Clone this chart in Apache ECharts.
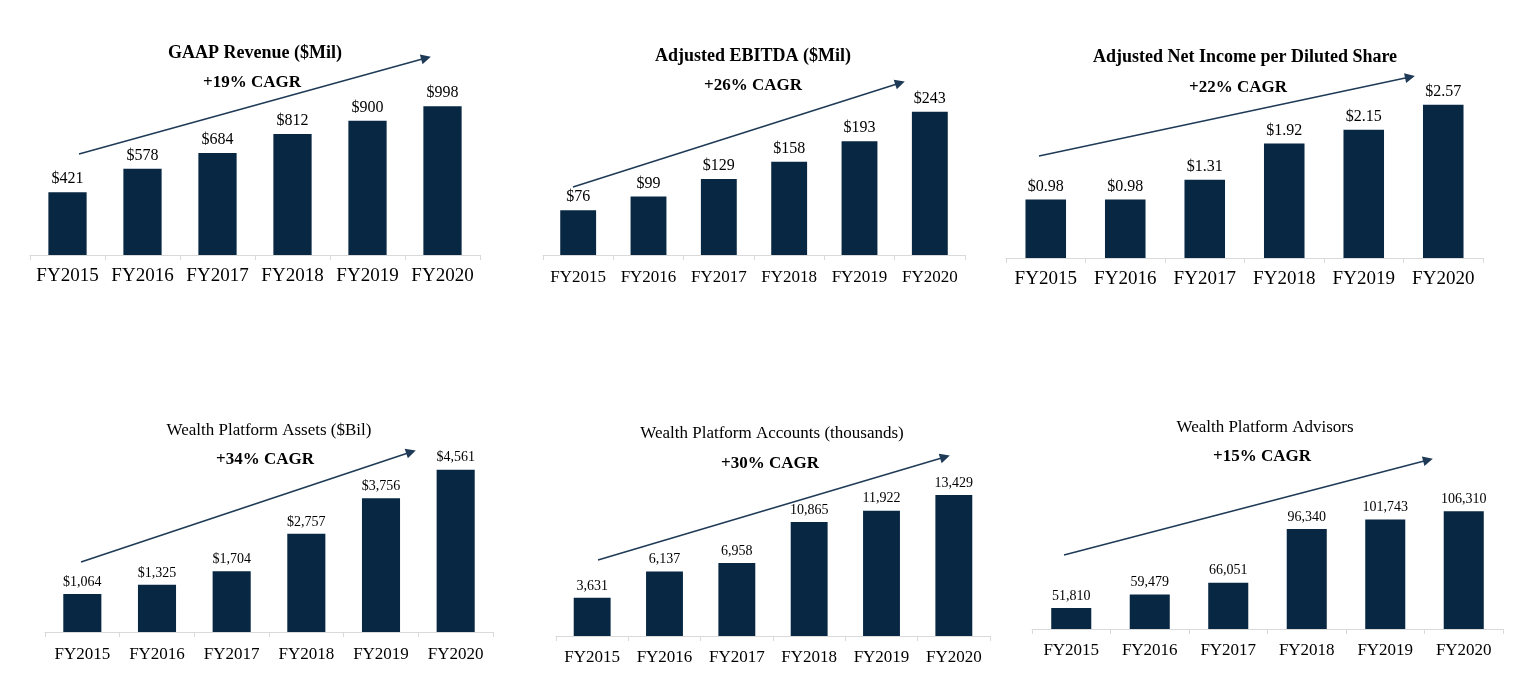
<!DOCTYPE html>
<html>
<head>
<meta charset="utf-8">
<script src="https://cdn.jsdelivr.net/npm/echarts@6/dist/echarts.min.js"></script>
<style>
  html, body { margin: 0; padding: 0; background: #ffffff; }
  #chart { width: 1517px; height: 689px; }
</style>
</head>
<body>
<div id="chart"></div>
<script>
// ---- Data ----
const categories = ['FY2015', 'FY2016', 'FY2017', 'FY2018', 'FY2019', 'FY2020'];
const titles = [
  'GAAP Revenue ($Mil)',
  'Adjusted EBITDA ($Mil)',
  'Adjusted Net Income per Diluted Share',
  'Wealth Platform Assets ($Bil)',
  'Wealth Platform Accounts (thousands)',
  'Wealth Platform Advisors'
];
const cagrLabels = ['+19% CAGR', '+26% CAGR', '+22% CAGR', '+34% CAGR', '+30% CAGR', '+15% CAGR'];
const revenue = [421, 578, 684, 812, 900, 998];
const ebitda = [76, 99, 129, 158, 193, 243];
const epsDiluted = [0.98, 0.98, 1.31, 1.92, 2.15, 2.57];
const platformAssets = [1064, 1325, 1704, 2757, 3756, 4561];
const platformAccounts = [3631, 6137, 6958, 10865, 11922, 13429];
const platformAdvisors = [51810, 59479, 66051, 96340, 101743, 106310];

const seriesData = [revenue, ebitda, epsDiluted, platformAssets, platformAccounts, platformAdvisors];

// ---- Formatting ----
const withCommas = v => v.toLocaleString('en-US');
const formatters = [
  v => '$' + withCommas(v),
  v => '$' + withCommas(v),
  v => '$' + v.toFixed(2),
  v => '$' + withCommas(v),
  v => withCommas(v),
  v => withCommas(v)
];

// ---- Layout (positions & styles) ----
const panels = [
  { left: 30,   top: 76,  width: 450, height: 179, min: 0, max: 1200,
    catSize: 19, catMargin: 12, valSize: 16, titleBold: true,
    title: [255, 53], cagr: [252, 83], arrow: [[79, 154], [426, 58]] },
  { left: 543,  top: 78,  width: 422, height: 177, min: 0, max: 300,
    catSize: 17, catMargin: 14, valSize: 16, titleBold: true,
    title: [753, 56], cagr: [753, 86], arrow: [[573, 187], [900, 83]] },
  { left: 1006, top: 79,  width: 477, height: 179, min: 0, max: 3,
    catSize: 19, catMargin: 12, valSize: 16, titleBold: true,
    title: [1245, 57], cagr: [1238, 88], arrow: [[1039, 156], [1410, 77]] },
  { left: 45,   top: 454, width: 448, height: 178, min: 0, max: 5000,
    catSize: 17, catMargin: 14, valSize: 14, titleBold: false,
    title: [269, 431], cagr: [265, 460], arrow: [[81, 562], [411, 452]] },
  { left: 556,  top: 468, width: 434, height: 168, min: 0, max: 16000,
    catSize: 17, catMargin: 13, valSize: 14, titleBold: false,
    title: [772, 434], cagr: [770, 464], arrow: [[598, 560], [945, 457]] },
  { left: 1032, top: 487, width: 471, height: 142, min: 40000, max: 120000,
    catSize: 17, catMargin: 13, valSize: 14, titleBold: false,
    title: [1265, 428], cagr: [1262, 457], arrow: [[1064, 555], [1428, 460]] }
];

const FONT = "'Liberation Serif', 'Times New Roman', serif";
const BAR_COLOR = '#072743';
const ARROW_COLOR = '#1E3A56';
const AXIS_COLOR = '#D9D9D9';

const grids = [], xAxes = [], yAxes = [], series = [], graphics = [];

panels.forEach((p, i) => {
  grids.push({ left: p.left, top: p.top, width: p.width, height: p.height, containLabel: false });
  xAxes.push({
    type: 'category', gridIndex: i, data: categories,
    axisLine: { show: true, lineStyle: { color: AXIS_COLOR, width: 1 } },
    axisTick: { show: true, length: 5, interval: 0, lineStyle: { color: AXIS_COLOR } },
    axisLabel: { interval: 0, hideOverlap: false, fontFamily: FONT, fontSize: p.catSize, color: '#000', margin: p.catMargin },
    splitLine: { show: false }
  });
  yAxes.push({ type: 'value', gridIndex: i, min: p.min, max: p.max, show: false, splitLine: { show: false } });
  series.push({
    type: 'bar', xAxisIndex: i, yAxisIndex: i, data: seriesData[i],
    barWidth: '51%',
    itemStyle: { color: BAR_COLOR },
    label: {
      show: true, position: 'top', distance: 5,
      fontFamily: FONT, fontSize: p.valSize, color: '#000',
      formatter: params => formatters[i](params.value)
    },
    markLine: {
      silent: true,
      symbol: ['none', 'triangle'],
      symbolSize: 10,
      label: { show: false },
      lineStyle: { color: ARROW_COLOR, width: 1.5, type: 'solid' },
      itemStyle: { color: ARROW_COLOR },
      emphasis: { disabled: true },
      data: [[{ x: p.arrow[0][0], y: p.arrow[0][1] }, { x: p.arrow[1][0], y: p.arrow[1][1] }]]
    }
  });
  graphics.push({
    type: 'text', x: p.title[0], y: p.title[1], silent: true,
    style: {
      text: titles[i], fill: '#000', fontFamily: FONT, fontSize: p.titleBold ? 18 : 17,
      fontWeight: p.titleBold ? 'bold' : 'normal', align: 'center', verticalAlign: 'middle'
    }
  });
  graphics.push({
    type: 'text', x: p.cagr[0], y: p.cagr[1], silent: true,
    style: {
      text: cagrLabels[i], fill: '#000', fontFamily: FONT, fontSize: 17,
      fontWeight: 'bold', align: 'center', verticalAlign: 'middle'
    }
  });
});

const chart = echarts.init(document.getElementById('chart'), null, { renderer: 'canvas' });
chart.setOption({
  animation: false,
  backgroundColor: '#ffffff',
  grid: grids,
  xAxis: xAxes,
  yAxis: yAxes,
  series: series,
  graphic: graphics
});
</script>
</body>
</html>
